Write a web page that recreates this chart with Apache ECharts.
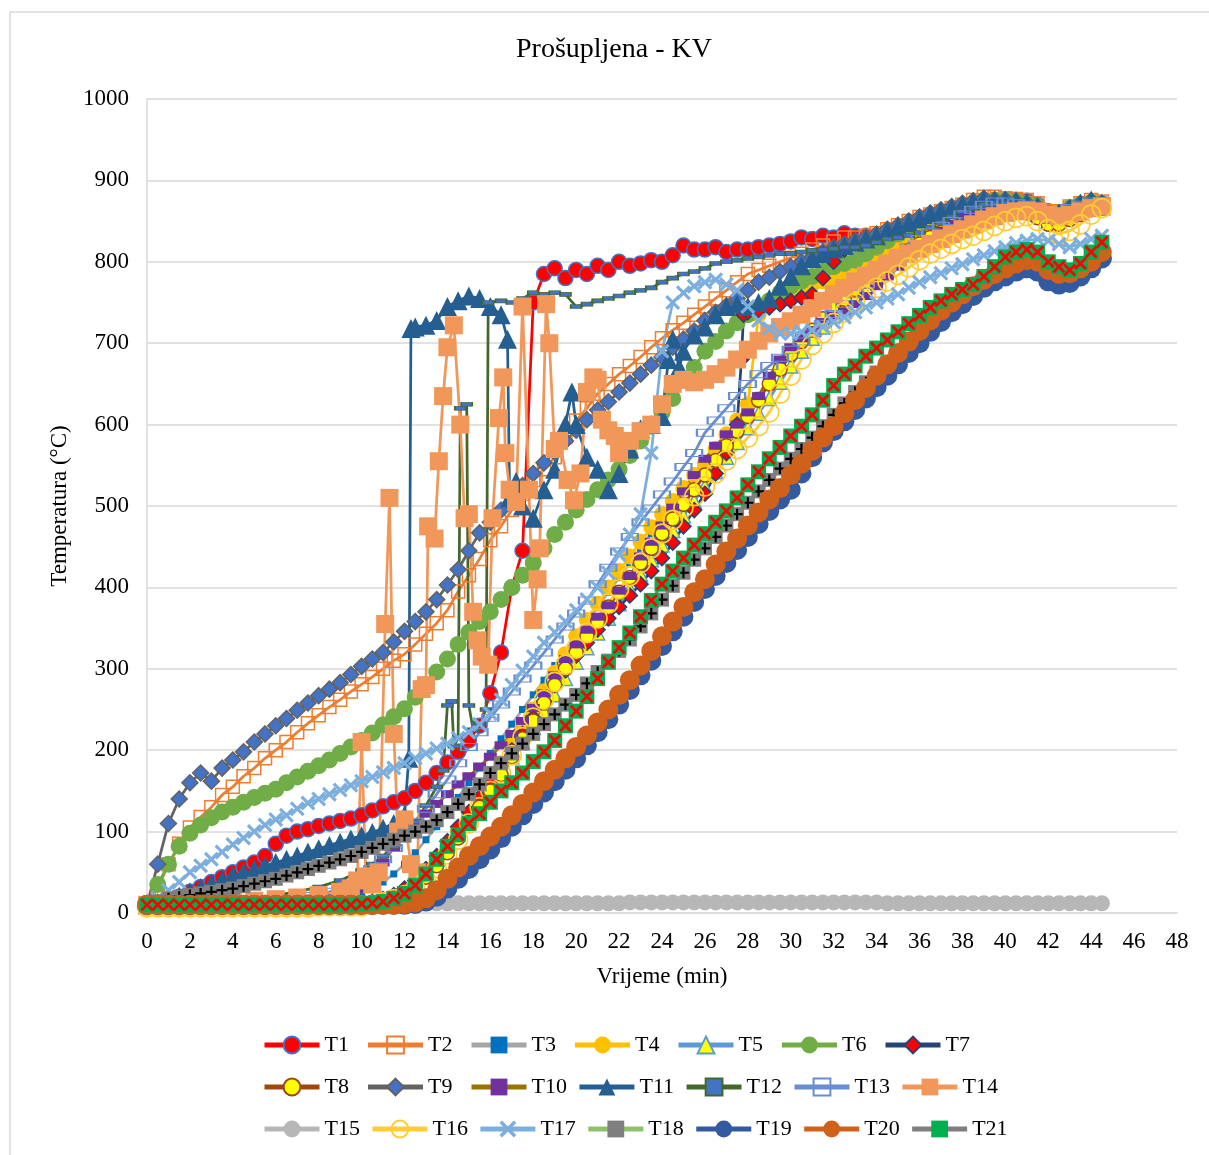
<!DOCTYPE html>
<html>
<head>
<meta charset="utf-8">
<title>Prošupljena - KV</title>
<script src="https://cdn.jsdelivr.net/npm/echarts@6/dist/echarts.min.js"></script>
<style>
  html, body { margin: 0; padding: 0; background: #ffffff; }
  #chart { width: 1209px; height: 1155px; }
</style>
</head>
<body>
<div id="chart"></div>
<script>
// Time axis (min) shared by the regularly sampled sensors
const minutes = [0,0.5,1,1.5,2,2.5,3,3.5,4,4.5,5,5.5,6,6.5,7,7.5,8,8.5,9,9.5,10,10.5,11,11.5,12,12.5,13,13.5,14,14.5,15,15.5,16,16.5,17,17.5,18,18.5,19,19.5,20,20.5,21,21.5,22,22.5,23,23.5,24,24.5,25,25.5,26,26.5,27,27.5,28,28.5,29,29.5,30,30.5,31,31.5,32,32.5,33,33.5,34,34.5,35,35.5,36,36.5,37,37.5,38,38.5,39,39.5,40,40.5,41,41.5,42,42.5,43,43.5,44,44.5];

// Time stamps for sensors with sudden jumps
const minutesT7 = [0,0.5,1,1.5,2,2.5,3,3.5,4,4.5,5,5.5,6,6.5,7,7.5,8,8.5,9,9.5,10,10.5,11,11.5,12,12.5,13,13.5,14,14.5,15,15.5,16,16.5,17,17.5,18,18.5,19,19.5,20,20.5,21,21.5,22,22.5,23,23.5,24,24.5,25,25.5,26,26.5,27,27.5,27.7,27.8,28,28.5,29,29.5,30,30.5,31,31.5,32,32.5,33,33.5,34,34.5,35,35.5,36,36.5,37,37.5,38,38.5,39,39.5,40,40.5,41,41.5,42,42.5,43,43.5,44,44.5];
const minutesT11 = [0,0.5,1,1.5,2,2.5,3,3.5,4,4.5,5,5.5,6,6.5,7,7.5,8,8.5,9,9.5,10,10.5,11,11.5,12,12.2,12.3,12.5,13,13.5,14,14.5,15,15.5,16,16.5,16.8,16.9,17.2,17.5,18,18.5,19,19.5,19.8,20,20.5,21,21.5,22,22.5,23,23.5,24,24.3,24.5,24.8,25,25.5,26,26.5,27,27.5,28,28.5,29,29.5,30,30.5,31,31.5,32,32.5,33,33.5,34,34.5,35,35.5,36,36.5,37,37.5,38,38.5,39,39.5,40,40.5,41,41.5,42,42.5,43,43.5,44,44.5];
const minutesT12 = [0,1,2,3,4,5,6,7,8,9,10,10.5,11,11.5,12,12.5,13,13.5,13.8,14.0,14.2,14.3,14.5,14.6,14.9,15.0,15.2,15.5,15.8,15.9,16.5,17,17.5,18,18.5,19,19.5,20,20.5,21,21.5,22,22.5,23,23.5,24,24.5,25,25.5,26,26.5,27,27.5,28,28.5,29,29.5,30,30.5,31,31.5,32,32.5,33,33.5,34,34.5,35,35.5,36,36.5,37,37.5,38,38.5,39,39.5,40,40.5,41,41.5,42,42.5,43,43.5,44,44.5];
const minutesT14 = [0,1,2,3,4,5,6,7,8,9,9.5,9.8,10.0,10.2,10.5,10.8,11.1,11.3,11.5,11.7,12.0,12.3,12.6,12.8,13.0,13.1,13.4,13.6,13.8,14.0,14.3,14.6,14.8,15.0,15.2,15.4,15.6,15.9,16.1,16.4,16.6,16.7,16.9,17.2,17.5,17.8,18.0,18.2,18.3,18.6,18.75,19.0,19.2,19.6,19.9,20.2,20.5,20.8,21.0,21.2,21.5,21.8,22.0,22.5,23.0,23.5,24,24.5,25,25.5,26,26.5,27,27.5,28,28.5,29,29.5,30,30.5,31,31.5,32,32.5,33,33.5,34,34.5,35,35.5,36,36.5,37,37.5,38,38.5,39,39.5,40,40.5,41,41.5,42,42.5,43,43.5,44,44.5];

// Temperatures (°C)
const t1 = [10,12,15,20,26,32,38,44,50,56, 62,70,85,95,100,103,107,110,113,116, 120,126,131,136,141,150,160,172,185,198, 212,230,270,320,400,445,750,785,792,780, 790,785,795,790,800,795,798,802,800,808, 820,815,815,818,812,815,815,818,820,822, 825,830,828,832,830,835,832,832,832,834, 836,840,845,850,855,860,865,870,875,876, 876,876,875,870,862,860,866,870,872,872];
const t2 = [10,30,60,85,105,118,130,145,155,168, 178,190,200,210,222,233,243,253,262,272, 281,290,300,310,318,330,343,356,372,395, 415,435,458,475,495,515,532,545,560,585, 605,620,638,650,662,672,683,695,706,716, 725,735,745,755,765,775,785,790,795,800, 805,810,815,820,825,830,830,832,835,840, 845,850,855,858,862,866,870,876,880,880, 878,877,876,872,862,862,868,872,876,874];
const t3 = [9,9,9,9,9,10,10,10,10,10, 11,11,12,12,13,14,15,16,18,21, 24,30,38,48,60,74,90,106,124,142, 160,178,196,214,232,250,268,286,304,322, 340,358,376,394,412,430,448,466,484,502, 520,538,556,572,588,604,620,636,652,668, 684,698,712,726,740,752,764,776,788,800, 812,822,832,840,848,854,860,866,870,872, 872,870,868,864,856,858,864,868,872,872];
const t4 = [6,6,6,6,6,6,6,6,6,6, 6,6,6,6,6,6,6,7,7,7, 7,9,12,17,24,34,48,64,82,100, 120,140,162,184,206,228,250,272,295,318, 340,360,380,400,420,438,456,474,490,506, 522,538,552,570,588,605,625,735,748,755, 762,768,772,776,778,782,786,792,800,808, 818,826,836,842,850,856,862,866,870,872, 872,870,868,862,854,856,862,866,870,868];
const t5 = [8,8,8,8,8,8,8,8,8,8, 8,8,8,8,8,9,9,9,9,9, 9,11,14,19,26,36,50,66,84,102, 120,138,156,174,192,210,228,248,268,288, 308,326,344,362,380,398,416,434,452,470, 488,506,524,542,560,578,596,614,632,652, 672,690,706,720,734,746,758,770,782,794, 806,816,826,834,842,848,854,860,864,866, 866,864,862,858,850,852,858,862,866,866];
const t6 = [10,35,60,82,98,108,117,124,130,136, 142,147,152,160,167,174,181,188,196,204, 212,221,231,241,251,265,280,296,312,330, 345,358,370,385,400,415,430,448,465,480, 495,508,520,532,545,562,580,598,615,632, 655,670,690,702,715,725,735,744,752,762, 770,776,782,788,794,798,802,810,818,826, 834,842,850,856,860,864,868,872,875,876, 875,874,872,868,858,860,866,870,873,870];
const t7 = [9,9,9,9,9,9,9,9,9,9, 9,9,9,9,10,10,10,10,11,11, 12,14,17,22,30,40,54,70,88,106, 124,142,160,180,200,220,240,260,280,298, 316,332,348,362,376,390,404,420,436,455, 475,495,515,540,565,600, 680,735, 738,740,744,748,752,756,760,780,800,815, 825,830,834,840,845,850,855,860,863,866, 870,874,876,876,876,874,872,866,858,860, 866,870,874,872];
const t8 = [7,7,7,7,7,7,7,7,7,7, 7,7,7,7,7,8,8,8,8,8, 8,10,13,17,23,32,44,58,74,92, 110,130,150,170,192,214,236,258,280,300, 320,340,358,376,394,412,430,448,466,484, 502,520,538,556,574,592,610,630,650,668, 686,702,716,730,742,754,766,776,786,796, 806,814,822,830,836,842,848,852,856,860, 862,862,860,854,846,846,852,858,864,866];
const t9 = [10,60,110,140,160,172,162,178,188,198, 210,220,230,239,249,258,267,275,283,293, 303,312,320,333,346,358,370,385,403,422, 445,467,480,495,510,525,540,553,566,580, 593,606,618,628,640,651,662,673,683,695, 705,715,728,738,746,755,765,775,781,788, 794,800,806,812,818,822,826,830,834,840, 845,850,855,860,864,868,872,875,878,876, 876,874,872,868,858,860,866,872,875,870];
const t10 = [8,8,8,8,9,9,10,10,11,11, 12,12,13,14,15,16,17,18,20,24, 30,45,62,80,95,110,122,134,146,158, 168,180,192,206,220,236,252,270,292,312, 330,348,364,378,396,414,438,456,476,498, 518,538,558,574,588,600,615,635,660,680, 695,706,716,726,734,740,748,758,770,782, 794,806,818,828,838,846,854,860,866,870, 870,868,866,862,856,856,860,864,868,868];
const t11 = [10,13,17,21,26,31,36,41,46,50, 54,58,62,66,70,75,79,83,87,91, 95,99,104,110,120, 190,718,720,722,728,745,752,758,755,745, 735,705,510,530,500,485,520,545,600,640, 600,560,545,520,540,570,595,600,610,680, 705,670, 690,710,720,735,745,748,745,750,755,770, 782,795,804,810,816,820,824,828,832,838, 843,848,853,858,862,866,870,874,877,876, 876,875,873,868,858,860,866,872,876,872];
const t12 = [10,11,12,14,16,19,22,26,32,40,52, 60,70,82,96,112,132,155, 175,255,260,205,215,620,625, 255,225,232,250,750, 752,750,755,762,760,762,760,745,748,752, 755,758,762,765,768,775,780,785,788,792, 798,800,802,804,806,808,810,810,812,814, 815,816,818,818,820,824,828,830,832,836, 842,848,855,862,866,870,872,872,870,868, 864,856,858,864,868,872,870];
const t13 = [8,8,9,9,10,10,11,11,12,13, 14,15,16,17,19,21,23,26,30,36, 44,54,66,80,96,112,128,146,164,184, 204,222,240,256,272,288,304,320,336,352, 368,384,404,424,444,462,480,497,514,530, 548,565,590,605,620,635,650,662,672,682, 692,702,712,724,736,748,760,772,784,796, 808,818,828,836,844,850,858,864,870,874, 874,872,870,866,858,860,866,870,874,874];
const t14 = [10,11,12,13,14,15,17,19,22,26, 30,40, 210,45,35,50, 355,510,220,100, 115,60,50,275, 280,475,460,555,635, 695,722,600,485, 490,370,335,315,305, 485,608,658,565,520, 505,745,520, 360,410,448,748,700, 570,580,532,507, 540,640,658, 655,606,593,586, 565,580, 592,600, 625,650,655,652,655,662,670,680,692,703, 712,720,727,735,743,752,760,768,776,783, 790,798,805,810,816,822,828,834,840,846, 852,856,860,862,863,862,858,856,858,862, 866,868];
const t15 = [11,11,11,11,11,11,11,11,11,11, 11,11,11,11,11,11,11,11,11,11, 11,11,11,11,12,12,12,12,12,12, 12,12,12,12,12,12,12,12,12,12, 12,12,12,12,12,13,13,13,13,13, 13,13,13,13,13,13,13,13,13,13, 13,13,13,13,13,13,13,13,13,12, 12,12,12,12,12,12,12,12,12,12, 12,12,12,12,12,12,12,12,12,12];
const t16 = [7,7,7,7,7,7,7,7,7,7, 7,7,7,7,7,7,8,8,8,8, 8,10,13,17,22,30,40,55,72,90, 110,130,150,172,194,216,240,262,284,305, 325,344,362,380,398,414,430,448,466,483, 498,512,524,540,556,570,584,598,615,638, 660,680,698,712,725,738,750,758,768,776, 784,793,802,810,816,822,828,832,838,844, 850,854,856,850,840,834,838,846,858,866];
const t17 = [10,18,28,38,50,58,66,75,84,92, 100,108,115,120,128,135,140,146,151,157, 162,167,173,178,184,190,196,202,208,215, 222,232,245,262,280,298,315,332,345,358, 372,385,400,418,440,465,490,565,690,750, 762,770,775,778,772,765,745,728,718,712, 712,714,716,720,726,732,738,744,750,755, 760,768,775,781,786,792,797,803,808,813, 818,823,826,828,826,822,818,822,828,832];
const t18 = [10,14,18,20,22,24,26,28,30,33, 36,39,42,46,50,54,58,62,66,70, 75,80,85,90,95,100,106,114,124,134, 146,158,172,184,196,208,220,232,244,256, 268,282,296,310,322,336,352,368,385,402, 418,434,448,462,476,490,504,518,532,546, 558,570,584,598,612,626,640,652,664,676, 688,700,712,724,736,746,756,766,776,786, 796,803,806,802,792,787,788,795,806,818];
const t19 = [10,10,10,10,10,10,10,10,10,10, 10,10,10,10,10,10,10,10,10,10, 10,10,10,10,10,11,14,20,30,42, 54,66,78,92,106,120,134,148,162,176, 190,206,222,238,256,274,292,310,328,346, 364,382,398,414,430,446,462,478,494,508, 520,540,560,578,592,604,618,632,646,660, 674,688,700,714,726,738,748,758,768,776, 782,788,792,788,776,772,774,782,792,804];
const t20 = [10,10,10,10,10,10,10,10,10,10, 10,10,10,10,10,10,10,10,10,10, 10,10,10,10,11,13,18,28,42,56, 70,82,94,106,120,134,148,162,176,190, 204,218,234,250,268,286,304,322,340,358, 376,394,410,428,444,460,476,492,508,522, 538,552,568,584,598,614,630,645,660,674, 688,702,715,728,740,750,760,770,778,785, 792,798,802,800,790,785,786,792,800,812];
const t21 = [10,10,10,10,10,10,10,10,10,10, 10,10,10,10,10,10,10,10,10,10, 11,12,14,18,24,34,48,66,82,96, 110,122,136,150,160,172,186,198,212,230, 248,266,288,308,326,344,364,384,404,420, 436,452,466,480,494,510,526,542,558,572, 586,598,612,630,648,662,672,684,694,704, 714,724,734,744,752,760,766,772,782,794, 806,812,815,812,800,794,790,798,812,824];

// Axis ticks
const xTicks = { min: 0, max: 48, step: 2 };
const yTicks = { min: 0, max: 1000, step: 100 };

const FONT = '"Liberation Serif", "Times New Roman", serif';
const X_MARK = 'path://M0,1.5L1.5,0L5,3.5L8.5,0L10,1.5L6.5,5L10,8.5L8.5,10L5,6.5L1.5,10L0,8.5L3.5,5Z';
const PLUS_MARK = 'path://M4,0H6V4H10V6H6V10H4V6H0V4H4Z';
const NONE = 'rgba(0,0,0,0)';

function pairs(times, vals, name) {
  if (times.length !== vals.length) console.warn(name, times.length, vals.length);
  return times.map((t, i) => [t, vals[i]]);
}

// name, times, values, line colour, symbol, size, fill, border colour, border width
function line(name, times, vals, lineColor, symbol, size, fill, border, bw, extra) {
  return Object.assign({
    name: name,
    type: 'line',
    data: pairs(times, vals, name),
    symbol: symbol,
    symbolSize: size,
    showSymbol: true,
    showAllSymbol: true,
    lineStyle: { color: lineColor, width: 2.75 },
    itemStyle: { color: fill, borderColor: border || fill, borderWidth: bw || 0 },
    emphasis: { disabled: true },
    animation: false
  }, extra || {});
}

const series = [
  line('T1', minutes, t1, '#FF0000', 'circle', 15, '#FF0000', '#4472C4', 1.5),
  line('T2', minutes, t2, '#ED7D31', 'rect', 13, NONE, '#ED7D31', 1.5),
  line('T3', minutes, t3, '#A5A5A5', 'rect', 7, '#0070C0', '#0070C0', 0),
  line('T4', minutes, t4, '#FFC000', 'circle', 16, '#FFC000', '#FFC000', 0),
  line('T5', minutes, t5, '#5B9BD5', 'triangle', 14, '#FFFF00', '#5B9BD5', 1.5),
  line('T6', minutes, t6, '#70AD47', 'circle', 17, '#70AD47', '#70AD47', 0),
  line('T7', minutesT7, t7, '#264478', 'diamond', 15, '#FF0000', '#264478', 1.5),
  line('T8', minutes, t8, '#9E480E', 'circle', 14, '#FFFF00', '#9E480E', 1.5),
  line('T9', minutes, t9, '#636363', 'diamond', 16, '#4472C4', '#636363', 1.5),
  line('T10', minutes, t10, '#997300', 'rect', [13, 8], '#7030A0', '#7030A0', 0),
  line('T11', minutesT11, t11, '#255E91', 'triangle', 19, '#255E91', '#255E91', 0),
  line('T12', minutesT12, t12, '#43682B', 'rect', [11, 4], '#4472C4', '#43682B', 1),
  line('T13', minutes, t13, '#698ED0', 'rect', [16, 7], NONE, '#698ED0', 1.5),
  line('T14', minutesT14, t14, '#F1975A', 'rect', 18, '#F1975A', '#F1975A', 0),
  line('T15', minutes, t15, '#B7B7B7', 'circle', 16, '#B7B7B7', '#B7B7B7', 0),
  line('T16', minutes, t16, '#FFCD33', 'circle', 19, NONE, '#FFCD33', 1.75),
  line('T17', minutes, t17, '#7CAFDD', X_MARK, 15, '#7CAFDD', '#7CAFDD', 0),
  line('T18', minutes, t18, '#8FC16A', 'rect', 14, '#7F7F7F', '#7F7F7F', 0),
  line('T18 ', minutes, t18, NONE, PLUS_MARK, 11, '#000000', '#000000', 0, { lineStyle: { width: 0, color: NONE } }),
  line('T19', minutes, t19, '#335AA1', 'circle', 20, '#335AA1', '#335AA1', 0),
  line('T20', minutes, t20, '#D0611A', 'circle', 20, '#D0611A', '#D0611A', 0),
  line('T21', minutes, t21, '#7F7F7F', 'rect', 15, '#00B050', '#00B050', 0),
  line('T21 ', minutes, t21, NONE, X_MARK, 13, '#FF0000', '#FF0000', 0, { lineStyle: { width: 0, color: NONE } })
];

const names = ['T1','T2','T3','T4','T5','T6','T7','T8','T9','T10','T11','T12','T13','T14','T15','T16','T17','T18','T19','T20','T21'];
const legends = [0, 1, 2].map(r => ({
  data: names.slice(r * 7, r * 7 + 7),
  left: 262,
  top: 1033 + r * 42,
  padding: 0,
  orient: 'horizontal',
  itemWidth: 55,
  itemHeight: 21,
  itemGap: 10,
  selectedMode: false,
  lineStyle: { width: 5 },
  textStyle: { fontFamily: FONT, fontSize: 22, color: '#000', width: 31, lineHeight: 24 }
}));

const chart = echarts.init(document.getElementById('chart'), null, { renderer: 'canvas' });
chart.setOption({
  backgroundColor: '#ffffff',
  animation: false,
  graphic: [
    { type: 'rect', shape: { x: 10, y: 12, width: 1210, height: 1160 }, style: { fill: NONE, stroke: '#D9D9D9', lineWidth: 1.5 }, silent: true },
    { type: 'text', x: 614, y: 50, style: { text: 'Prošupljena - KV', font: '28px ' + FONT, fill: '#000', textAlign: 'center', textVerticalAlign: 'middle' }, silent: true }
  ],
  grid: { left: 147, right: 32, top: 99, bottom: 242, containLabel: false },
  legend: legends,
  xAxis: {
    type: 'value', min: xTicks.min, max: xTicks.max, interval: xTicks.step,
    name: 'Vrijeme (min)', nameLocation: 'middle', nameGap: 52,
    nameTextStyle: { fontFamily: FONT, fontSize: 23, color: '#000' },
    axisLine: { show: true, lineStyle: { color: '#D9D9D9', width: 1.5 } },
    axisTick: { show: false },
    splitLine: { show: false },
    axisLabel: { fontFamily: FONT, fontSize: 23, color: '#000', margin: 17, formatter: v => String(v) }
  },
  yAxis: {
    type: 'value', min: yTicks.min, max: yTicks.max, interval: yTicks.step,
    name: 'Temperatura (°C)', nameLocation: 'middle', nameGap: 76,
    nameTextStyle: { fontFamily: FONT, fontSize: 23, color: '#000' },
    axisLine: { show: true, lineStyle: { color: '#D9D9D9', width: 1.5 } },
    axisTick: { show: false },
    splitLine: { show: true, lineStyle: { color: '#D9D9D9', width: 1.5 } },
    axisLabel: { fontFamily: FONT, fontSize: 23, color: '#000', margin: 18, formatter: v => String(v) }
  },
  series: series
});
</script>
</body>
</html>
